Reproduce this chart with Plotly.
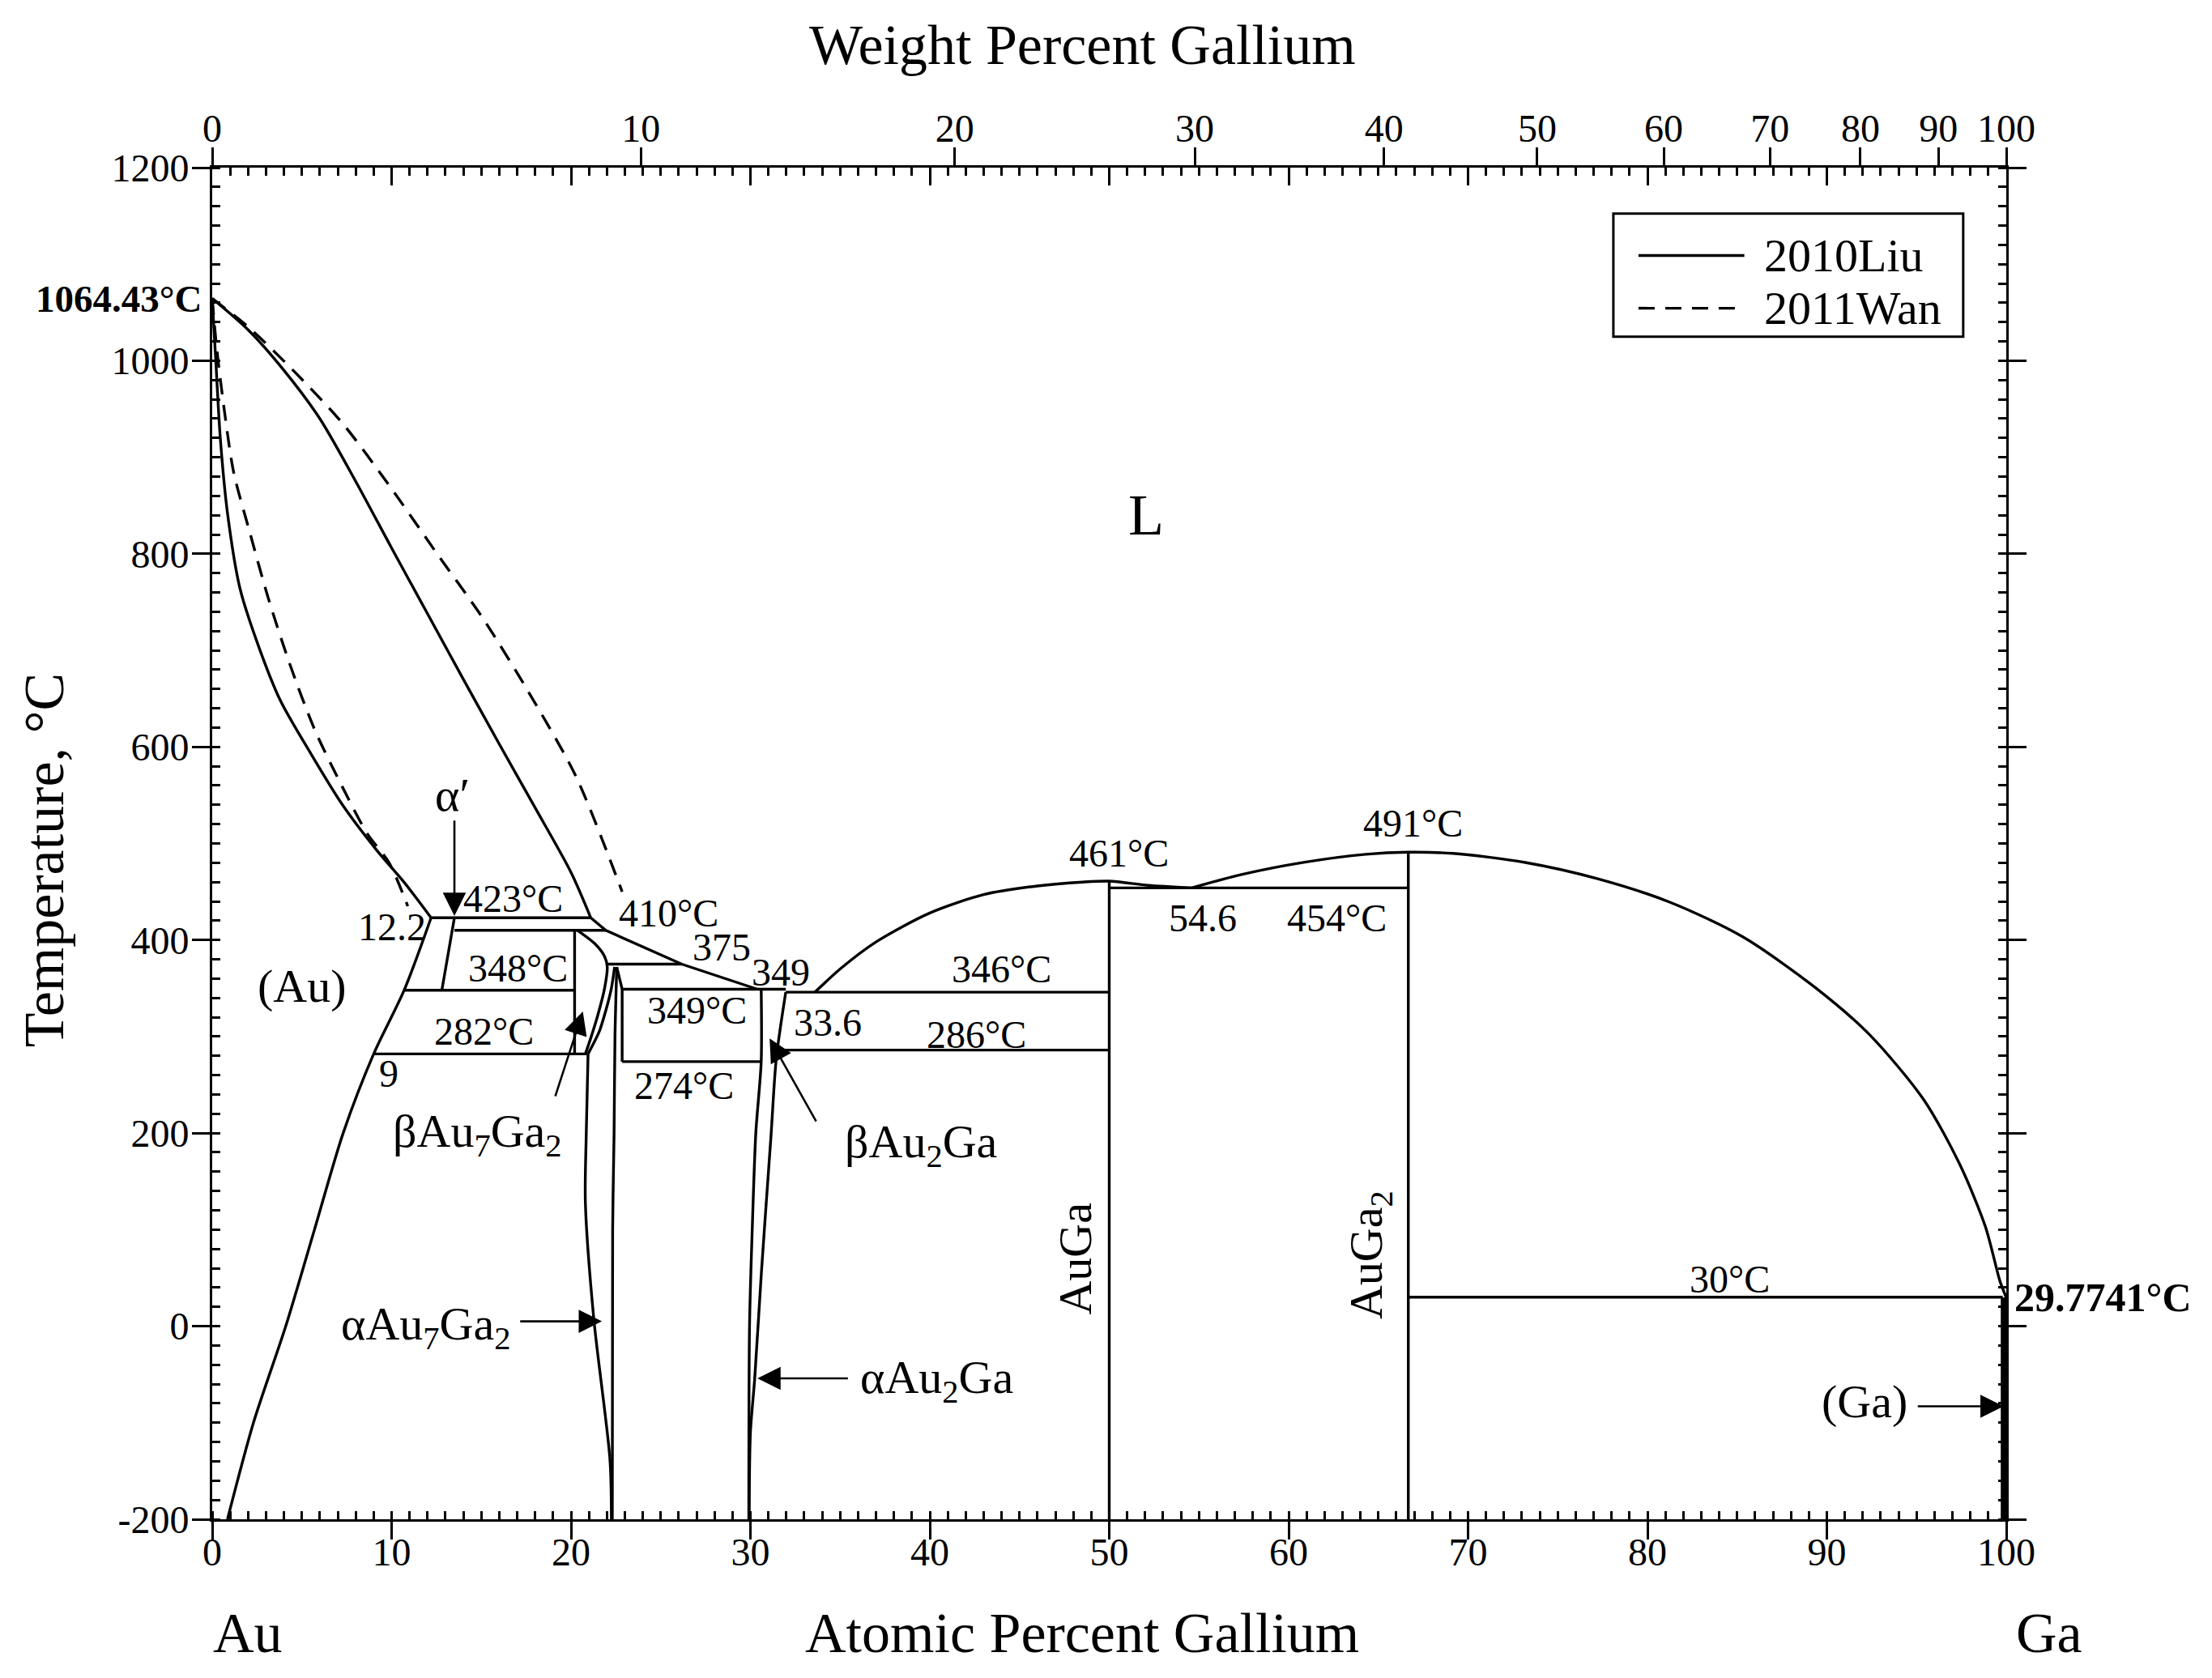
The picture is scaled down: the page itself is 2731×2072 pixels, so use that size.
import plotly.graph_objects as go

# Au-Ga phase diagram: 2010Liu (solid) vs 2011Wan (dashed)
# x = atomic percent Ga, t = temperature in deg C

# 2010Liu liquidus, Au side (curved part down to the 423 C peritectic)
liu_liq_x = [0, 2, 4, 6, 8, 10, 12, 14, 16, 18, 20, 21.1]
liu_liq_t = [1064.43, 1032, 990, 940, 875, 806, 738, 670, 603, 537, 470, 423]
# straight liquidus run 423 -> 349 C
liu_liq2_x = [21.1, 21.94, 26.17, 30.39]
liu_liq2_t = [423, 410, 375, 349]
# 2010Liu solidus
liu_sol_x = [0, 0.2, 0.45, 0.86, 1.55, 2.59, 3.8, 5.53, 7.26, 9.17, 10.73, 12.2]
liu_sol_t = [1064.43, 1000, 920, 841, 764, 704, 648, 592, 540, 493, 459, 423]

# 2011Wan liquidus / solidus
wan_liq_x = [0, 2.07, 4.67, 7.27, 9.86, 12.46, 15.06, 17.66, 20.26, 22.85]
wan_liq_t = [1064.43, 1034, 987, 935, 871, 802, 734, 656, 570, 450]
wan_sol_x = [0, 0.25, 0.68, 1.2, 2.07, 3.11, 4.32, 5.71, 7.27, 8.65, 9.86, 10.9]
wan_sol_t = [1064.43, 1013, 948, 884, 824, 755, 686, 618, 558, 510, 480, 435]

# (Au) solvus
au_solvus_x = [12.2, 10.7, 9.0, 7.3, 5.7, 4.1, 2.3, 0.85]
au_solvus_t = [423, 348, 282, 200, 100, 0, -100, -200]

# invariant (horizontal) lines
iso_t = [423, 410, 348, 282, 375, 349, 274, 346, 286, 454, 30]
iso_x0 = [12.2, 13.5, 10.7, 9.0, 22.0, 22.85, 22.85, 31.97, 31.5, 50, 66.67]
iso_x1 = [21.1, 21.94, 20.2, 20.9, 26.17, 31.97, 30.6, 50, 50, 66.67, 99.8]

# alpha' right boundary
ap_x = [13.5, 12.8]
ap_t = [423, 348]
# Au7Ga2 region
b72_left_x = [20.2, 20.2]
b72_left_t = [410, 282]
b72_outer_x = [20.36, 21.34, 21.87, 22.02, 21.87, 21.49, 21.11, 20.8]
b72_outer_t = [410, 396, 383, 372, 350, 322, 299, 282]
b72_inner_x = [22.43, 22.25, 21.94, 21.57, 20.95]
b72_inner_t = [372, 350, 327, 305, 282]
a72_left_x = [20.95, 20.85, 20.8, 21.27, 22.17, 22.25]
a72_left_t = [282, 200, 128, 7.5, -138, -200]
a72_right_x = [22.55, 22.45, 22.4, 22.32, 22.3]
a72_right_t = [372, 300, 200, 100, -200]
box_left_x = [22.55, 22.85, 22.85]
box_left_t = [372, 349, 274]
# Au2Ga region
a2_left_x = [30.6, 30.6, 30.3, 30.1, 29.95, 29.91]
a2_left_t = [349, 274, 200, 100, 0, -200]
a2_right_x = [31.97, 31.44, 31.15, 30.62, 30.24, 30.0, 29.93]
a2_right_t = [346, 277, 198, 58, -54, -110, -200]

# liquidus on the Ga-rich side
auga_liq_x = [33.6, 35, 37, 40, 43, 46, 48.5, 50, 52.17, 54.6]
auga_liq_t = [346, 370, 398, 428, 447, 456, 460, 461, 456.6, 454]
auga2_liq_x = [54.6, 57.37, 60.83, 64.3, 66.67, 69.15, 73.19, 77.23, 81.27, 85.31,
               89.35, 92.38, 95.41, 97.43, 98.84, 99.65, 100]
auga2_liq_t = [454, 467.8, 480.4, 488.8, 491, 489.7, 480.3, 463.4, 439, 403.3,
               350.8, 301.9, 234.3, 166.7, 102.9, 46.5, 29.77]

# line compounds
auga_x = [50, 50]
auga_t = [461, -200]
auga2_x = [66.67, 66.67]
auga2_t = [491, -200]
ga_x = [99.85, 99.85]
ga_t = [29.77, -200]

# axis tick labels
temp_ticks = [-200, 0, 200, 400, 600, 800, 1000, 1200]
temp_labels = ["-200", "0", "200", "400", "600", "800", "1000", "1200"]
wt_labels = [0, 10, 20, 30, 40, 50, 60, 70, 80, 90, 100]

# text labels
num_text = ["423°C", "12.2", "410°C", "375", "349", "348°C", "282°C", "9", "349°C",
            "33.6", "346°C", "286°C", "274°C", "461°C", "491°C", "54.6", "454°C", "30°C"]
num_x = [16.75, 10.0, 25.46, 28.4, 31.7, 17.06, 15.16, 9.86, 27.04,
         34.3, 44.0, 42.6, 26.3, 50.55, 66.94, 55.2, 62.7, 84.6]
num_t = [443, 414, 428, 393, 367, 371, 305, 262, 327,
         315, 370, 302, 249, 490, 521, 423, 423, 49]

phase_text = ["(Au)", "βAu<sub>7</sub>Ga<sub>2</sub>", "βAu<sub>2</sub>Ga",
              "αAu<sub>7</sub>Ga<sub>2</sub>", "αAu<sub>2</sub>Ga", "(Ga)", "α′"]
phase_x = [5.03, 14.8, 39.5, 11.9, 40.4, 92.1, 13.4]
phase_t = [352, 199, 188, -1, -56, -78, 550]

rot_text = ["AuGa", "AuGa<sub>2</sub>"]
rot_x = [48.1, 64.5]
rot_t = [70, 74]

# arrows: tail -> tip
arrow_x0 = [13.5, 19.1, 33.7, 17.1, 35.5, 95.0]
arrow_t0 = [525, 237, 211, 5, -54, -83]
arrow_x1 = [13.5, 20.66, 31.07, 21.72, 30.39, 99.85]
arrow_t1 = [425, 326, 298, 5, -54, -83]

FONT = "Liberation Serif"


def wt_to_at(w):
    # weight % Ga -> atomic % Ga (Au 196.967, Ga 69.723)
    if w >= 100:
        return 100.0
    ga = w / 69.723
    au = (100 - w) / 196.967
    return 100 * ga / (ga + au)


fig = go.Figure()


def add_line(x, t, dash="solid", smooth=False, width=3.4):
    fig.add_trace(go.Scatter(
        x=x, y=t, mode="lines",
        line=dict(color="black", width=width, dash=dash,
                  shape="spline" if smooth else "linear",
                  smoothing=0.8 if smooth else None),
        showlegend=False, hoverinfo="skip"
    ))


add_line(liu_liq_x, liu_liq_t, smooth=True)
add_line(liu_liq2_x, liu_liq2_t)
add_line(liu_sol_x, liu_sol_t, smooth=True)
add_line(wan_liq_x, wan_liq_t, dash="20px,13px", smooth=True)
add_line(wan_sol_x, wan_sol_t, dash="20px,13px", smooth=True)
add_line(au_solvus_x, au_solvus_t, smooth=True)

for t, x0, x1 in zip(iso_t, iso_x0, iso_x1):
    add_line([x0, x1], [t, t])

add_line(ap_x, ap_t)
add_line(b72_left_x, b72_left_t)
add_line(b72_outer_x, b72_outer_t, smooth=True)
add_line(b72_inner_x, b72_inner_t, smooth=True)
add_line(a72_left_x, a72_left_t, smooth=True)
add_line(a72_right_x, a72_right_t, smooth=True)
add_line(box_left_x, box_left_t)
add_line(a2_left_x, a2_left_t, smooth=True)
add_line(a2_right_x, a2_right_t, smooth=True)
add_line(auga_liq_x, auga_liq_t, smooth=True)
add_line(auga2_liq_x, auga2_liq_t, smooth=True)
add_line(auga_x, auga_t)
add_line(auga2_x, auga2_t)
add_line(ga_x, ga_t, width=7)

# dummy traces so the extra axes get drawn
fig.add_trace(go.Scatter(x=[None], y=[None], xaxis="x2", yaxis="y", showlegend=False, hoverinfo="skip"))
fig.add_trace(go.Scatter(x=[None], y=[None], xaxis="x3", yaxis="y", showlegend=False, hoverinfo="skip"))
fig.add_trace(go.Scatter(x=[None], y=[None], xaxis="x", yaxis="y2", showlegend=False, hoverinfo="skip"))

ann = []
for txt, x, t in zip(num_text, num_x, num_t):
    ann.append(dict(x=x, y=t, text=txt, showarrow=False, font=dict(size=48)))
for txt, x, t in zip(phase_text, phase_x, phase_t):
    ann.append(dict(x=x, y=t, text=txt, showarrow=False, font=dict(size=58)))
for txt, x, t in zip(rot_text, rot_x, rot_t):
    ann.append(dict(x=x, y=t, text=txt, showarrow=False, textangle=-90, font=dict(size=58)))
ann.append(dict(x=52.06, y=840, text="L", showarrow=False, font=dict(size=72)))

for x0, t0, x1, t1 in zip(arrow_x0, arrow_t0, arrow_x1, arrow_t1):
    ann.append(dict(x=x1, y=t1, ax=x0, ay=t0, axref="x", ayref="y", text="",
                    showarrow=True, arrowhead=2, arrowsize=2.2, arrowwidth=2.6,
                    arrowcolor="black", standoff=0))

# special temperatures next to the axes
ann.append(dict(xref="paper", x=0, y=1064.43, text="<b>1064.43°C</b>", showarrow=False,
                xanchor="right", yanchor="middle", xshift=-10, font=dict(size=47)))
ann.append(dict(xref="paper", x=1, y=29.7741, text="<b>29.7741°C</b>", showarrow=False,
                xanchor="left", yanchor="middle", xshift=8, font=dict(size=50)))

# axis titles
title_font = dict(size=70)
ann.append(dict(xref="paper", yref="paper", x=0.485, y=0, yshift=-140, xanchor="center",
                yanchor="middle", text="Atomic Percent Gallium", showarrow=False, font=title_font))
ann.append(dict(xref="paper", yref="paper", x=0.02, y=0, yshift=-140, xanchor="center",
                yanchor="middle", text="Au", showarrow=False, font=title_font))
ann.append(dict(xref="paper", yref="paper", x=1.024, y=0, yshift=-140, xanchor="center",
                yanchor="middle", text="Ga", showarrow=False, font=title_font))
ann.append(dict(xref="paper", yref="paper", x=0.485, y=1, yshift=152, xanchor="center",
                yanchor="middle", text="Weight Percent Gallium", showarrow=False, font=title_font))
ann.append(dict(xref="paper", yref="paper", x=0, y=0.4876, xshift=-208, textangle=-90,
                xanchor="center", yanchor="middle",
                text="Temperature, °C", showarrow=False, font=title_font))

# legend box drawn by hand
ann.append(dict(xref="paper", yref="paper", x=0.864, y=0.935, text="2010Liu", showarrow=False,
                xanchor="left", yanchor="middle", font=dict(size=58)))
ann.append(dict(xref="paper", yref="paper", x=0.864, y=0.896, text="2011Wan", showarrow=False,
                xanchor="left", yanchor="middle", font=dict(size=58)))
shapes = [
    dict(type="rect", xref="paper", yref="paper", x0=0.781, x1=0.976, y0=0.875, y1=0.966,
         line=dict(color="black", width=3), fillcolor="white", layer="below"),
    dict(type="line", xref="paper", yref="paper", x0=0.795, x1=0.854, y0=0.935, y1=0.935,
         line=dict(color="black", width=3.4)),
    dict(type="line", xref="paper", yref="paper", x0=0.795, x1=0.854, y0=0.896, y1=0.896,
         line=dict(color="black", width=3.4, dash="20px,13px")),
]

axis_common = dict(showgrid=False, zeroline=False, linecolor="black", linewidth=3,
                   tickcolor="black", tickwidth=3, automargin=False,
                   tickfont=dict(size=48, family=FONT, color="black"))

fig.update_layout(
    width=2731, height=2072, autosize=False,
    margin=dict(l=254, r=262, t=199, b=204),
    paper_bgcolor="white", plot_bgcolor="white",
    font=dict(family=FONT, color="black"),
    annotations=ann, shapes=shapes,
    xaxis=dict(range=[0, 100], tickmode="linear", tick0=0, dtick=10,
               ticks="outside", ticklen=22, showline=True, ticklabelstandoff=-26,
               minor=dict(ticks="inside", dtick=1, ticklen=10, tickwidth=3, tickcolor="black"),
               **axis_common),
    xaxis2=dict(range=[0, 100], overlaying="x", side="top", anchor="y",
                tickmode="array", tickvals=[wt_to_at(w) for w in wt_labels],
                ticktext=[str(w) for w in wt_labels], ticklabelstandoff=-12,
                ticks="outside", ticklen=22, showline=True, **axis_common),
    xaxis3=dict(range=[0, 100], overlaying="x", side="top", anchor="y",
                tickmode="linear", tick0=0, dtick=10, ticks="inside", ticklen=22,
                showticklabels=False, showline=False,
                minor=dict(ticks="inside", dtick=1, ticklen=10, tickwidth=3, tickcolor="black"),
                **axis_common),
    yaxis=dict(range=[-200, 1200], tickmode="array", tickvals=temp_ticks, ticktext=temp_labels,
               ticks="outside", ticklen=22, showline=True, ticklabelstandoff=-6,
               minor=dict(ticks="inside", tickmode="linear", tick0=-200, dtick=20,
                          ticklen=10, tickwidth=3, tickcolor="black"),
               **axis_common),
    yaxis2=dict(range=[-200, 1200], overlaying="y", side="right", anchor="x",
                tickmode="array", tickvals=temp_ticks, ticks="outside", ticklen=22,
                showticklabels=False, showline=True,
                minor=dict(ticks="inside", tickmode="linear", tick0=-200, dtick=20,
                           ticklen=10, tickwidth=3, tickcolor="black"),
                **axis_common),
)

fig.write_html("out.html")
